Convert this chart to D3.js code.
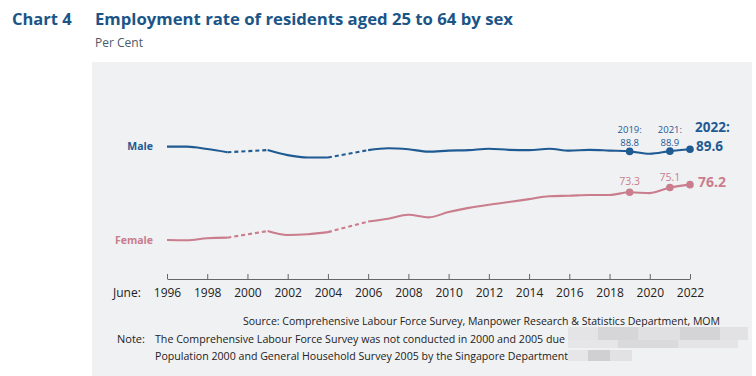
<html>
<head>
    <title>Chart 4</title>
    <script src="https://d3js.org/d3.v7.min.js"></script>
    <style>
        body { margin: 0; background: #fff; }
        svg text { font-family: "Open Sans", "Noto Sans", sans-serif; }
    </style>
</head>
<body>
<svg width="756" height="376"></svg>
<script>

    // data (gaps in 2000 and 2005: no survey)
    var years  = [1996, 1997, 1998, 1999, 2001, 2002, 2003, 2004, 2006, 2007, 2008, 2009, 2010,
                  2011, 2012, 2013, 2014, 2015, 2016, 2017, 2018, 2019, 2020, 2021, 2022];
    var male   = [90.6, 90.6, 89.7, 88.5, 89.3, 87.4, 86.5, 86.5, 89.3, 90.0, 89.6, 88.7, 89.1,
                  89.3, 89.8, 89.4, 89.3, 89.8, 89.1, 89.4, 89.1, 88.8, 87.9, 88.9, 89.6];
    var female = [55.2, 55.1, 55.9, 56.1, 58.6, 57.1, 57.4, 58.2, 62.2, 63.3, 64.8, 63.8, 65.8,
                  67.4, 68.6, 69.6, 70.7, 71.8, 72.0, 72.3, 72.3, 73.3, 73.0, 75.1, 76.2];
    var tickYears = d3.range(1996, 2023, 2);
    var markYears = [2019, 2021, 2022];

    var svg = d3.select("svg");
    var blue = "#1f5a93", pink = "#c97d8d", dark = "#1b5587";

    var x = d3.scaleLinear().domain([1996, 2022]).range([167, 690]);
    var y = d3.scaleLinear().domain([73.3, 89.6]).range([192.3, 149.3]);

    // panel
    svg.append("rect").attr("x", 92).attr("y", 62).attr("width", 660).attr("height", 314)
        .attr("fill", "#f0f1f3");

    // titles
    svg.append("text").attr("x", 12).attr("y", 25).text("Chart 4")
        .attr("font-size", 16.5).attr("font-weight", 700).attr("fill", dark);
    svg.append("text").attr("x", 95).attr("y", 25).text("Employment rate of residents aged 25 to 64 by sex")
        .attr("font-size", 16.5).attr("font-weight", 700).attr("fill", dark)
        .attr("textLength", 418).attr("lengthAdjust", "spacingAndGlyphs");
    svg.append("text").attr("x", 95).attr("y", 47).text("Per Cent")
        .attr("font-size", 12).attr("fill", "#4a5a6a");

    // axis
    var axis = svg.append("g").attr("transform", "translate(0,279)")
        .call(d3.axisBottom(x).tickValues(tickYears).tickFormat(d3.format("d"))
            .tickSizeInner(-5).tickSizeOuter(0).tickPadding(9));
    axis.select(".domain").attr("stroke", "#666");
    axis.selectAll(".tick line").attr("stroke", "#666");
    axis.selectAll(".tick text").attr("font-size", 12).attr("fill", "#222")
        .attr("font-family", "Open Sans, sans-serif");
    svg.append("text").attr("x", 113).attr("y", 297).text("June:")
        .attr("font-size", 12).attr("fill", "#222");

    function drawSeries(vals, color) {
        var pts = years.map(function(yr, i) { return {year: yr, v: vals[i]}; });
        // split into contiguous runs
        var runs = [], cur = [pts[0]];
        for (var i = 1; i < pts.length; i++) {
            if (pts[i].year - pts[i - 1].year > 1) { runs.push(cur); cur = []; }
            cur.push(pts[i]);
        }
        runs.push(cur);

        var line = d3.line().x(function(d) { return x(d.year); })
            .y(function(d) { return y(d.v); }).curve(d3.curveMonotoneX);

        runs.forEach(function(r, k) {
            svg.append("path").datum(r).attr("d", line)
                .attr("fill", "none").attr("stroke", color).attr("stroke-width", 2.1);
            if (k > 0) {
                var a = runs[k - 1][runs[k - 1].length - 1], b = r[0];
                svg.append("line")
                    .attr("x1", x(a.year)).attr("y1", y(a.v))
                    .attr("x2", x(b.year)).attr("y2", y(b.v))
                    .attr("stroke", color).attr("stroke-width", 2.1)
                    .attr("stroke-dasharray", "4,3");
            }
        });

        svg.selectAll(null).data(pts.filter(function(d) { return markYears.indexOf(d.year) >= 0; }))
            .enter().append("circle")
            .attr("cx", function(d) { return x(d.year); })
            .attr("cy", function(d) { return y(d.v); })
            .attr("r", 3.8).attr("fill", color);
        return pts;
    }

    var mPts = drawSeries(male, blue);
    var fPts = drawSeries(female, pink);

    // series labels
    svg.append("text").attr("x", 153).attr("y", 150).attr("text-anchor", "end").text("Male")
        .attr("font-size", 10.5).attr("font-weight", 700).attr("fill", blue);
    svg.append("text").attr("x", 153).attr("y", 244).attr("text-anchor", "end").text("Female")
        .attr("font-size", 10.5).attr("font-weight", 700).attr("fill", pink);

    // value annotations
    function val(pts, yr) { return pts.filter(function(d) { return d.year == yr; })[0].v; }
    var f1 = d3.format(".1f");

    [2019, 2021].forEach(function(yr) {
        var my = y(val(mPts, yr));
        svg.append("text").attr("x", x(yr)).attr("y", my - 18).attr("text-anchor", "middle")
            .attr("font-size", 9.5).attr("fill", blue).text(yr + ":");
        svg.append("text").attr("x", x(yr)).attr("y", my - 5).attr("text-anchor", "middle")
            .attr("font-size", 9.5).attr("fill", blue).text(f1(val(mPts, yr)));
        svg.append("text").attr("x", x(yr)).attr("y", y(val(fPts, yr)) - 7)
            .attr("text-anchor", "middle").attr("font-size", 10.5).attr("fill", pink)
            .text(f1(val(fPts, yr)));
    });
    var m22 = y(val(mPts, 2022));
    svg.append("text").attr("x", x(2022) + 5).attr("y", m22 - 17.5)
        .attr("font-size", 13.5).attr("font-weight", 700).attr("fill", blue).text("2022:");
    svg.append("text").attr("x", x(2022) + 6).attr("y", m22 + 1.5)
        .attr("font-size", 13.5).attr("font-weight", 700).attr("fill", blue).text(f1(val(mPts, 2022)));
    svg.append("text").attr("x", x(2022) + 8).attr("y", y(val(fPts, 2022)) + 2)
        .attr("font-size", 14).attr("font-weight", 700).attr("fill", pink)
        .text(f1(val(fPts, 2022)));

    // footer
    svg.append("text").attr("x", 720).attr("y", 325).attr("text-anchor", "end")
        .text("Source: Comprehensive Labour Force Survey, Manpower Research & Statistics Department, MOM")
        .attr("font-size", 11).attr("fill", "#222")
        .attr("textLength", 477).attr("lengthAdjust", "spacingAndGlyphs");
    svg.append("text").attr("x", 117).attr("y", 343).text("Note:")
        .attr("font-size", 11).attr("fill", "#222");
    svg.append("text").attr("x", 155).attr("y", 343)
        .text("The Comprehensive Labour Force Survey was not conducted in 2000 and 2005 due")
        .attr("font-size", 11).attr("fill", "#222")
        .attr("textLength", 410).attr("lengthAdjust", "spacingAndGlyphs");
    svg.append("text").attr("x", 155).attr("y", 360)
        .text("Population 2000 and General Household Survey 2005 by the Singapore Department")
        .attr("font-size", 11).attr("fill", "#222")
        .attr("textLength", 413).attr("lengthAdjust", "spacingAndGlyphs");

    // blurred-out area of the note
    var blur = [[568, 327, 30, 13, "#e4e4e6"], [598, 327, 40, 13, "#d6d6d8"], [638, 327, 42, 13, "#e0e0e2"],
                [680, 327, 40, 13, "#d4d4d6"], [720, 327, 28, 13, "#e2e2e4"], [568, 340, 50, 8, "#e6e6e8"],
                [618, 340, 60, 8, "#dadadc"], [678, 340, 60, 8, "#e4e4e6"], [568, 350, 20, 11, "#e6e6e8"],
                [588, 350, 22, 11, "#d0d0d2"], [610, 350, 22, 11, "#e2e2e4"]];
    svg.selectAll(null).data(blur).enter().append("rect")
        .attr("x", function(d) { return d[0]; }).attr("y", function(d) { return d[1]; })
        .attr("width", function(d) { return d[2]; }).attr("height", function(d) { return d[3]; })
        .attr("fill", function(d) { return d[4]; });

</script>
</body>
</html>
